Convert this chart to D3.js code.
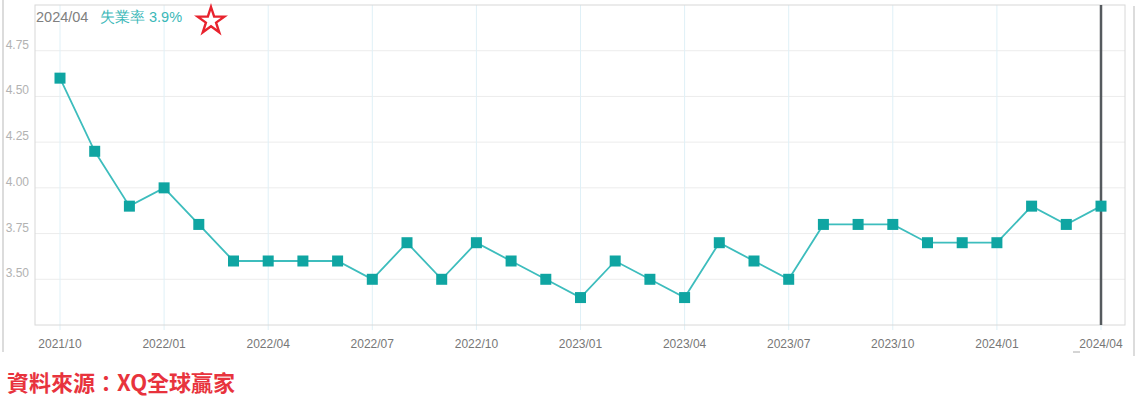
<!DOCTYPE html>
<html><head><meta charset="utf-8">
<script src="https://cdn.jsdelivr.net/npm/d3@7"></script>
<style>body{margin:0;background:#fff;}svg{display:block;}</style>
</head><body>
<script>
const months = ["2021/10","2021/11","2021/12","2022/01","2022/02","2022/03","2022/04","2022/05","2022/06","2022/07","2022/08","2022/09","2022/10","2022/11","2022/12","2023/01","2023/02","2023/03","2023/04","2023/05","2023/06","2023/07","2023/08","2023/09","2023/10","2023/11","2023/12","2024/01","2024/02","2024/03","2024/04"];
const unemployment = [4.6,4.2,3.9,4.0,3.8,3.6,3.6,3.6,3.6,3.5,3.7,3.5,3.7,3.6,3.5,3.4,3.6,3.5,3.4,3.7,3.6,3.5,3.8,3.8,3.8,3.7,3.7,3.7,3.9,3.8,3.9];
const xTickLabels = ["2021/10","2022/01","2022/04","2022/07","2022/10","2023/01","2023/04","2023/07","2023/10","2024/01","2024/04"];
const yTicks = [3.5,3.75,4.0,4.25,4.5,4.75];
const seriesName = "失業率";
const sourceText = "資料來源：XQ全球贏家";

const W=1136,H=416;
const svg=d3.select("body").append("svg").attr("width",W).attr("height",H);
const L=35,R=1125,T=5,B=325;
const x=d3.scaleLinear().domain([0,months.length-1]).range([60,1101]);
const y=d3.scaleLinear().domain([3.25,5.0]).range([B,T]);
const font="'Liberation Sans', Arial, sans-serif";

// outer frame lines
svg.append("line").attr("x1",3).attr("x2",3).attr("y1",0).attr("y2",352).attr("stroke","#d0d0d0").attr("stroke-width",1.5);
svg.append("line").attr("x1",1134).attr("x2",1134).attr("y1",6).attr("y2",356).attr("stroke","#d0d0d0").attr("stroke-width",1.5);

// horizontal grid
svg.append("g").selectAll("line").data(yTicks).join("line")
  .attr("x1",L).attr("x2",R).attr("y1",d=>y(d)).attr("y2",d=>y(d))
  .attr("stroke","#ececec").attr("stroke-width",1);
// vertical grid
svg.append("g").selectAll("line").data(xTickLabels).join("line")
  .attr("x1",d=>x(months.indexOf(d))).attr("x2",d=>x(months.indexOf(d)))
  .attr("y1",T).attr("y2",B+5)
  .attr("stroke","#dff0f7").attr("stroke-width",1);

// plot border
svg.append("rect").attr("x",L).attr("y",T).attr("width",R-L).attr("height",B-T)
  .attr("fill","none").attr("stroke","#d8d8d8").attr("stroke-width",1);

// y labels
svg.append("g").selectAll("text").data(yTicks).join("text")
  .attr("x",29).attr("y",d=>y(d)-2).attr("text-anchor","end")
  .attr("font-family",font).attr("font-size",12).attr("fill","#b2b2b2")
  .text(d=>d.toFixed(2));

// x labels
svg.append("g").selectAll("text").data(xTickLabels).join("text")
  .attr("x",d=>x(months.indexOf(d))).attr("y",348).attr("text-anchor","middle")
  .attr("font-family",font).attr("font-size",12).attr("fill","#777")
  .text(d=>d);
const lastX=x(months.length-1);
svg.append("line").attr("x1",lastX-28).attr("x2",lastX-21).attr("y1",352).attr("y2",352).attr("stroke","#aaa").attr("stroke-width",1);

// line
svg.append("path").datum(unemployment)
  .attr("d",d3.line().x((d,i)=>x(i)).y(d=>y(d)))
  .attr("fill","none").attr("stroke","#3dbdbd").attr("stroke-width",1.8);

// crosshair
svg.append("line").attr("x1",lastX).attr("x2",lastX).attr("y1",T).attr("y2",B)
  .attr("stroke","#555a5e").attr("stroke-width",2.5);

// markers
const ms=11;
svg.append("g").selectAll("rect").data(unemployment).join("rect")
  .attr("x",(d,i)=>x(i)-ms/2).attr("y",d=>y(d)-ms/2).attr("width",ms).attr("height",ms)
  .attr("fill","#0fa5a2");

// legend
svg.append("text").attr("x",36).attr("y",22).attr("font-family",font).attr("font-size",14.5)
  .attr("fill","#808080").text(months[months.length-1]);
svg.append("text").attr("x",100).attr("y",22).attr("font-family",font).attr("font-size",14.5)
  .attr("fill","#3ab8b8").text(seriesName+" "+unemployment[unemployment.length-1].toFixed(1)+"%");

// star
const star=d3.symbol().type(d3.symbolStar).size(220);
svg.append("path").attr("d",star()).attr("transform","translate(211,21)")
  .attr("fill","#fff").attr("stroke","#e8232e").attr("stroke-width",2.4);

// source
svg.append("text").attr("x",7).attr("y",391).attr("font-family","'Noto Sans CJK TC', sans-serif")
  .attr("font-weight","bold").attr("font-size",22).attr("fill","#e8333d").text(sourceText);
</script>
</body></html>
